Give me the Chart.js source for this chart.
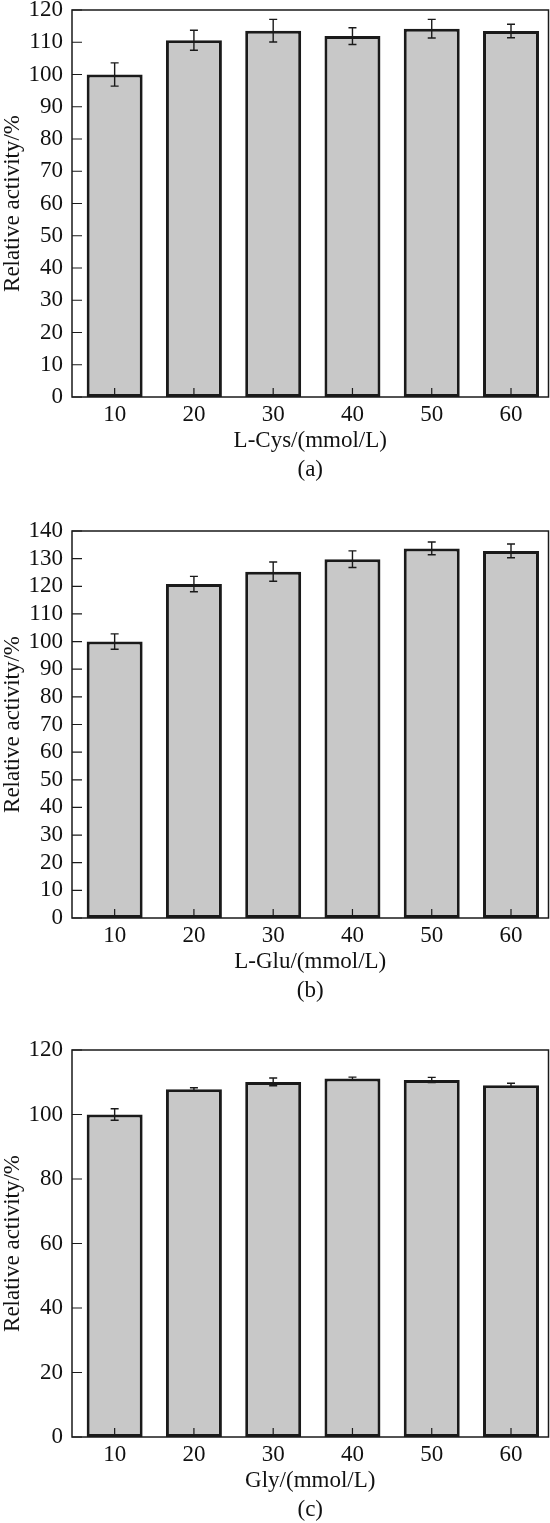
<!DOCTYPE html>
<html>
<head>
<meta charset="utf-8">
<title>Relative activity vs amino acid concentration</title>
<script src="https://cdn.jsdelivr.net/npm/chart.js@4.4.1/dist/chart.umd.min.js"></script>
<style>
  html, body { margin: 0; padding: 0; background: #fff; overflow: hidden; }
  #page { position: relative; width: 550px; height: 1523px; overflow: hidden; }
  canvas { position: absolute; left: 0; }
</style>
</head>
<body>
<div id="page">
  <canvas id="panel-a" width="550" height="499" style="top:-9px"></canvas>
  <canvas id="panel-b" width="550" height="499" style="top:512px"></canvas>
  <canvas id="panel-c" width="550" height="499" style="top:1031px"></canvas>
</div>
<script>
// concentrations (mmol/L), shared by all three panels
const concentrations = [10, 20, 30, 40, 50, 60];

// (a) L-Cys
const cysActivity = [100, 110.6, 113.6, 111.9, 114.2, 113.5];
const cysError = [3.6, 3.1, 3.5, 2.6, 2.9, 2.1];

// (b) L-Glu
const gluActivity = [100, 120.8, 125.3, 129.8, 133.7, 132.8];
const gluError = [2.8, 2.8, 3.5, 3.0, 2.3, 2.5];

// (c) Gly
const glyActivity = [100, 107.8, 110.1, 111.2, 110.7, 109.1];
const glyError = [1.8, 0.5, 1.2, 0.4, 0.8, 0.6];

const COLORS = {
    fill: '#c8c8c8',
    edge: '#1a1a1a',
    text: '#111111'
};
const FONT_FAMILY = "'Liberation Serif', 'Times New Roman', serif";

// frame box, inward tick marks and error bars
const frameAndErrors = {
    id: 'frameAndErrors',
    afterDatasetsDraw(chart) {
        const { ctx, chartArea: area, scales: { x, y } } = chart;
        const ds = chart.data.datasets[0];
        ctx.save();
        ctx.strokeStyle = COLORS.edge;
        ctx.lineCap = 'butt';

        // error bars
        ctx.lineWidth = 1.4;
        ds.data.forEach((pt, i) => {
            const err = ds.errors[i];
            const px = x.getPixelForValue(pt.x);
            const top = y.getPixelForValue(pt.y + err);
            const bot = y.getPixelForValue(pt.y - err);
            ctx.beginPath();
            ctx.moveTo(px, top); ctx.lineTo(px, bot);
            ctx.moveTo(px - 4, top); ctx.lineTo(px + 4, top);
            ctx.moveTo(px - 4, bot); ctx.lineTo(px + 4, bot);
            ctx.stroke();
        });

        // inward ticks
        ctx.lineWidth = 1.2;
        ctx.beginPath();
        y.ticks.forEach(t => {
            const py = y.getPixelForValue(t.value);
            ctx.moveTo(area.left, py);
            ctx.lineTo(area.left + 10, py);
        });
        x.ticks.forEach(t => {
            const px = x.getPixelForValue(t.value);
            ctx.moveTo(px, area.bottom);
            ctx.lineTo(px, area.bottom - 9);
        });
        ctx.stroke();

        // frame
        ctx.lineWidth = 1.5;
        ctx.strokeRect(area.left, area.top, area.right - area.left, area.bottom - area.top);
        ctx.restore();
    }
};

function makePanel(canvasId, values, errors, yMax, yStep, xTitle, tag) {
    const ctx = document.getElementById(canvasId).getContext('2d');
    return new Chart(ctx, {
        type: 'bar',
        data: {
            datasets: [{
                data: concentrations.map((c, i) => ({ x: c, y: values[i] })),
                errors: errors,
                backgroundColor: COLORS.fill,
                borderColor: COLORS.edge,
                borderWidth: 3,
                borderSkipped: false,
                barPercentage: 0.706,
                categoryPercentage: 1
            }]
        },
        options: {
            responsive: false,
            animation: false,
            devicePixelRatio: 1,
            // top space comes from the y tick label half height + tick padding (10 + 9)
            layout: { padding: { top: 0, right: 1.5, left: 0, bottom: 0 } },
            plugins: {
                legend: { display: false },
                tooltip: { enabled: false }
            },
            scales: {
                x: {
                    type: 'linear',
                    offset: false,
                    min: 4.62,
                    max: 64.73,
                    grid: { display: false, drawTicks: false },
                    border: { display: false },
                    afterBuildTicks: scale => {
                        scale.ticks = concentrations.map(v => ({ value: v }));
                    },
                    afterFit: scale => { scale.height = 93; },
                    ticks: {
                        color: COLORS.text,
                        padding: 6,
                        maxRotation: 0,
                        autoSkip: false,
                        font: { family: FONT_FAMILY, size: 23, lineHeight: 1 }
                    },
                    title: {
                        display: true,
                        text: [xTitle, tag],
                        color: COLORS.text,
                        padding: { top: 0, bottom: 5.5 },
                        font: { family: FONT_FAMILY, size: 23, lineHeight: 1.26 }
                    }
                },
                y: {
                    min: 0,
                    max: yMax,
                    grid: { display: false, drawTicks: false },
                    border: { display: false },
                    afterFit: scale => { scale.width = 72; },
                    ticks: {
                        stepSize: yStep,
                        color: COLORS.text,
                        padding: 9,
                        font: { family: FONT_FAMILY, size: 23, lineHeight: 20 / 23 }
                    },
                    title: {
                        display: true,
                        text: 'Relative activity/%',
                        color: COLORS.text,
                        padding: { top: 1, bottom: 0 },
                        font: { family: FONT_FAMILY, size: 23, lineHeight: 1 }
                    }
                }
            }
        },
        plugins: [frameAndErrors]
    });
}

makePanel('panel-a', cysActivity, cysError, 120, 10, 'L-Cys/(mmol/L)', '(a)');
makePanel('panel-b', gluActivity, gluError, 140, 10, 'L-Glu/(mmol/L)', '(b)');
makePanel('panel-c', glyActivity, glyError, 120, 20, 'Gly/(mmol/L)', '(c)');
</script>
</body>
</html>
